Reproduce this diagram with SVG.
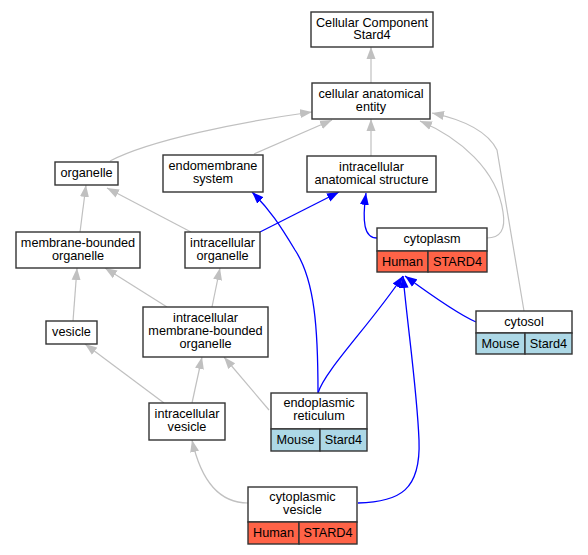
<svg xmlns="http://www.w3.org/2000/svg" width="588" height="555" viewBox="0 0 588 555">
<defs>
<marker id="ag" markerWidth="12" markerHeight="10" refX="12" refY="0" viewBox="0 -5 12 10" orient="auto" markerUnits="userSpaceOnUse"><path d="M0,-4.5 L12,0 L0,4.5 z" fill="#c0c0c0"/></marker>
<marker id="ab" markerWidth="12" markerHeight="10" refX="12" refY="0" viewBox="0 -5 12 10" orient="auto" markerUnits="userSpaceOnUse"><path d="M0,-4.5 L12,0 L0,4.5 z" fill="#0000ff"/></marker>
<style>
.n{fill:#ffffff;stroke:#333333;stroke-width:1.4}
.h{fill:#ff6347;stroke:#333333;stroke-width:1.4}
.m{fill:#add8e6;stroke:#333333;stroke-width:1.4}
text{font-family:"Liberation Sans",Arial,sans-serif;font-size:12.7px;fill:#000;text-anchor:middle}
.g{fill:none;stroke:#c0c0c0;stroke-width:1.2;marker-end:url(#ag)}
.b{fill:none;stroke:#0000ff;stroke-width:1.3;marker-end:url(#ab)}
</style>
</defs>
<rect width="588" height="555" fill="#ffffff"/>
<g id="edges">
<path class="g" d="M371,83 L371,47"/>
<path class="g" d="M110,161 C150,140 240,122 312,112"/>
<path class="g" d="M254,154 L332,120"/>
<path class="g" d="M371,156 L371,119"/>
<path class="g" d="M487,238 C500,238 506,230 503,212 C497,170 460,138 420,121"/>
<path class="g" d="M524,311 L497,150 C488,132 465,120 432,113"/>
<path class="g" d="M80,232 L86,185"/>
<path class="g" d="M191,232 L107,188"/>
<path class="g" d="M73,321 L77,268"/>
<path class="g" d="M167,307 L105,268"/>
<path class="g" d="M212,307 L220,268"/>
<path class="g" d="M164,403 L85,344"/>
<path class="g" d="M192,403 L202,357"/>
<path class="g" d="M269,410 L224,357"/>
<path class="g" d="M248,503 C222,503 202,485 192,440"/>
<path class="b" d="M260,232 L339,192"/>
<path class="b" d="M318,393 C318,330 315,280 295,250 C280,225 270,210 252,192"/>
<path class="b" d="M377,238 C364,238 362,222 366,193"/>
<path class="b" d="M318,393 C325,370 370,325 403,276"/>
<path class="b" d="M476,322 C460,315 435,298 405,276"/>
<path class="b" d="M358,503 C400,502 421,490 419,440 C417,390 408,330 403,276"/>
</g>
<g id="n_cc"><rect class="n" x="311" y="12" width="122" height="35"/><text x="372" y="26.5">Cellular Component</text><text x="372" y="39">Stard4</text></g>
<g id="n_cae"><rect class="n" x="312" y="83" width="118" height="36"/><text x="371" y="98">cellular anatomical</text><text x="371" y="111">entity</text></g>
<g id="n_org"><rect class="n" x="55" y="162" width="63" height="23"/><text x="86.5" y="177">organelle</text></g>
<g id="n_endo"><rect class="n" x="163" y="155" width="100" height="37"/><text x="213" y="170">endomembrane</text><text x="213" y="183">system</text></g>
<g id="n_ias"><rect class="n" x="307" y="156" width="129" height="36"/><text x="371.5" y="171">intracellular</text><text x="371.5" y="184">anatomical structure</text></g>
<g id="n_mbo"><rect class="n" x="16" y="232" width="124" height="36"/><text x="78" y="247">membrane-bounded</text><text x="78" y="260">organelle</text></g>
<g id="n_io"><rect class="n" x="185" y="232" width="75" height="36"/><text x="222.5" y="247">intracellular</text><text x="222.5" y="260">organelle</text></g>
<g id="n_cyto"><rect class="n" x="377" y="228" width="110" height="23"/><rect class="h" x="377" y="251" width="51" height="21"/><rect class="h" x="428" y="251" width="59" height="21"/><text x="432" y="243">cytoplasm</text><text x="402.5" y="265.5">Human</text><text x="457.5" y="265.5">STARD4</text></g>
<g id="n_ves"><rect class="n" x="46" y="321" width="51" height="23"/><text x="71.5" y="336">vesicle</text></g>
<g id="n_imbo"><rect class="n" x="143" y="307" width="125" height="50"/><text x="205.5" y="322">intracellular</text><text x="205.5" y="335">membrane-bounded</text><text x="205.5" y="348">organelle</text></g>
<g id="n_cytosol"><rect class="n" x="476" y="311" width="96" height="22"/><rect class="m" x="476" y="333" width="49" height="21"/><rect class="m" x="525" y="333" width="47" height="21"/><text x="524" y="325.5">cytosol</text><text x="500.5" y="347.5">Mouse</text><text x="548.5" y="347.5">Stard4</text></g>
<g id="n_iv"><rect class="n" x="149" y="403" width="76" height="37"/><text x="187" y="418">intracellular</text><text x="187" y="431">vesicle</text></g>
<g id="n_er"><rect class="n" x="271" y="393" width="96" height="36"/><rect class="m" x="271" y="429" width="49" height="22"/><rect class="m" x="320" y="429" width="47" height="22"/><text x="319" y="407">endoplasmic</text><text x="319" y="420">reticulum</text><text x="295.5" y="444">Mouse</text><text x="343.5" y="444">Stard4</text></g>
<g id="n_cv"><rect class="n" x="248" y="487" width="109" height="35"/><rect class="h" x="248" y="522" width="51" height="22"/><rect class="h" x="299" y="522" width="58" height="22"/><text x="302.5" y="501">cytoplasmic</text><text x="302.5" y="514">vesicle</text><text x="273.5" y="536.5">Human</text><text x="328" y="536.5">STARD4</text></g>
</svg>
